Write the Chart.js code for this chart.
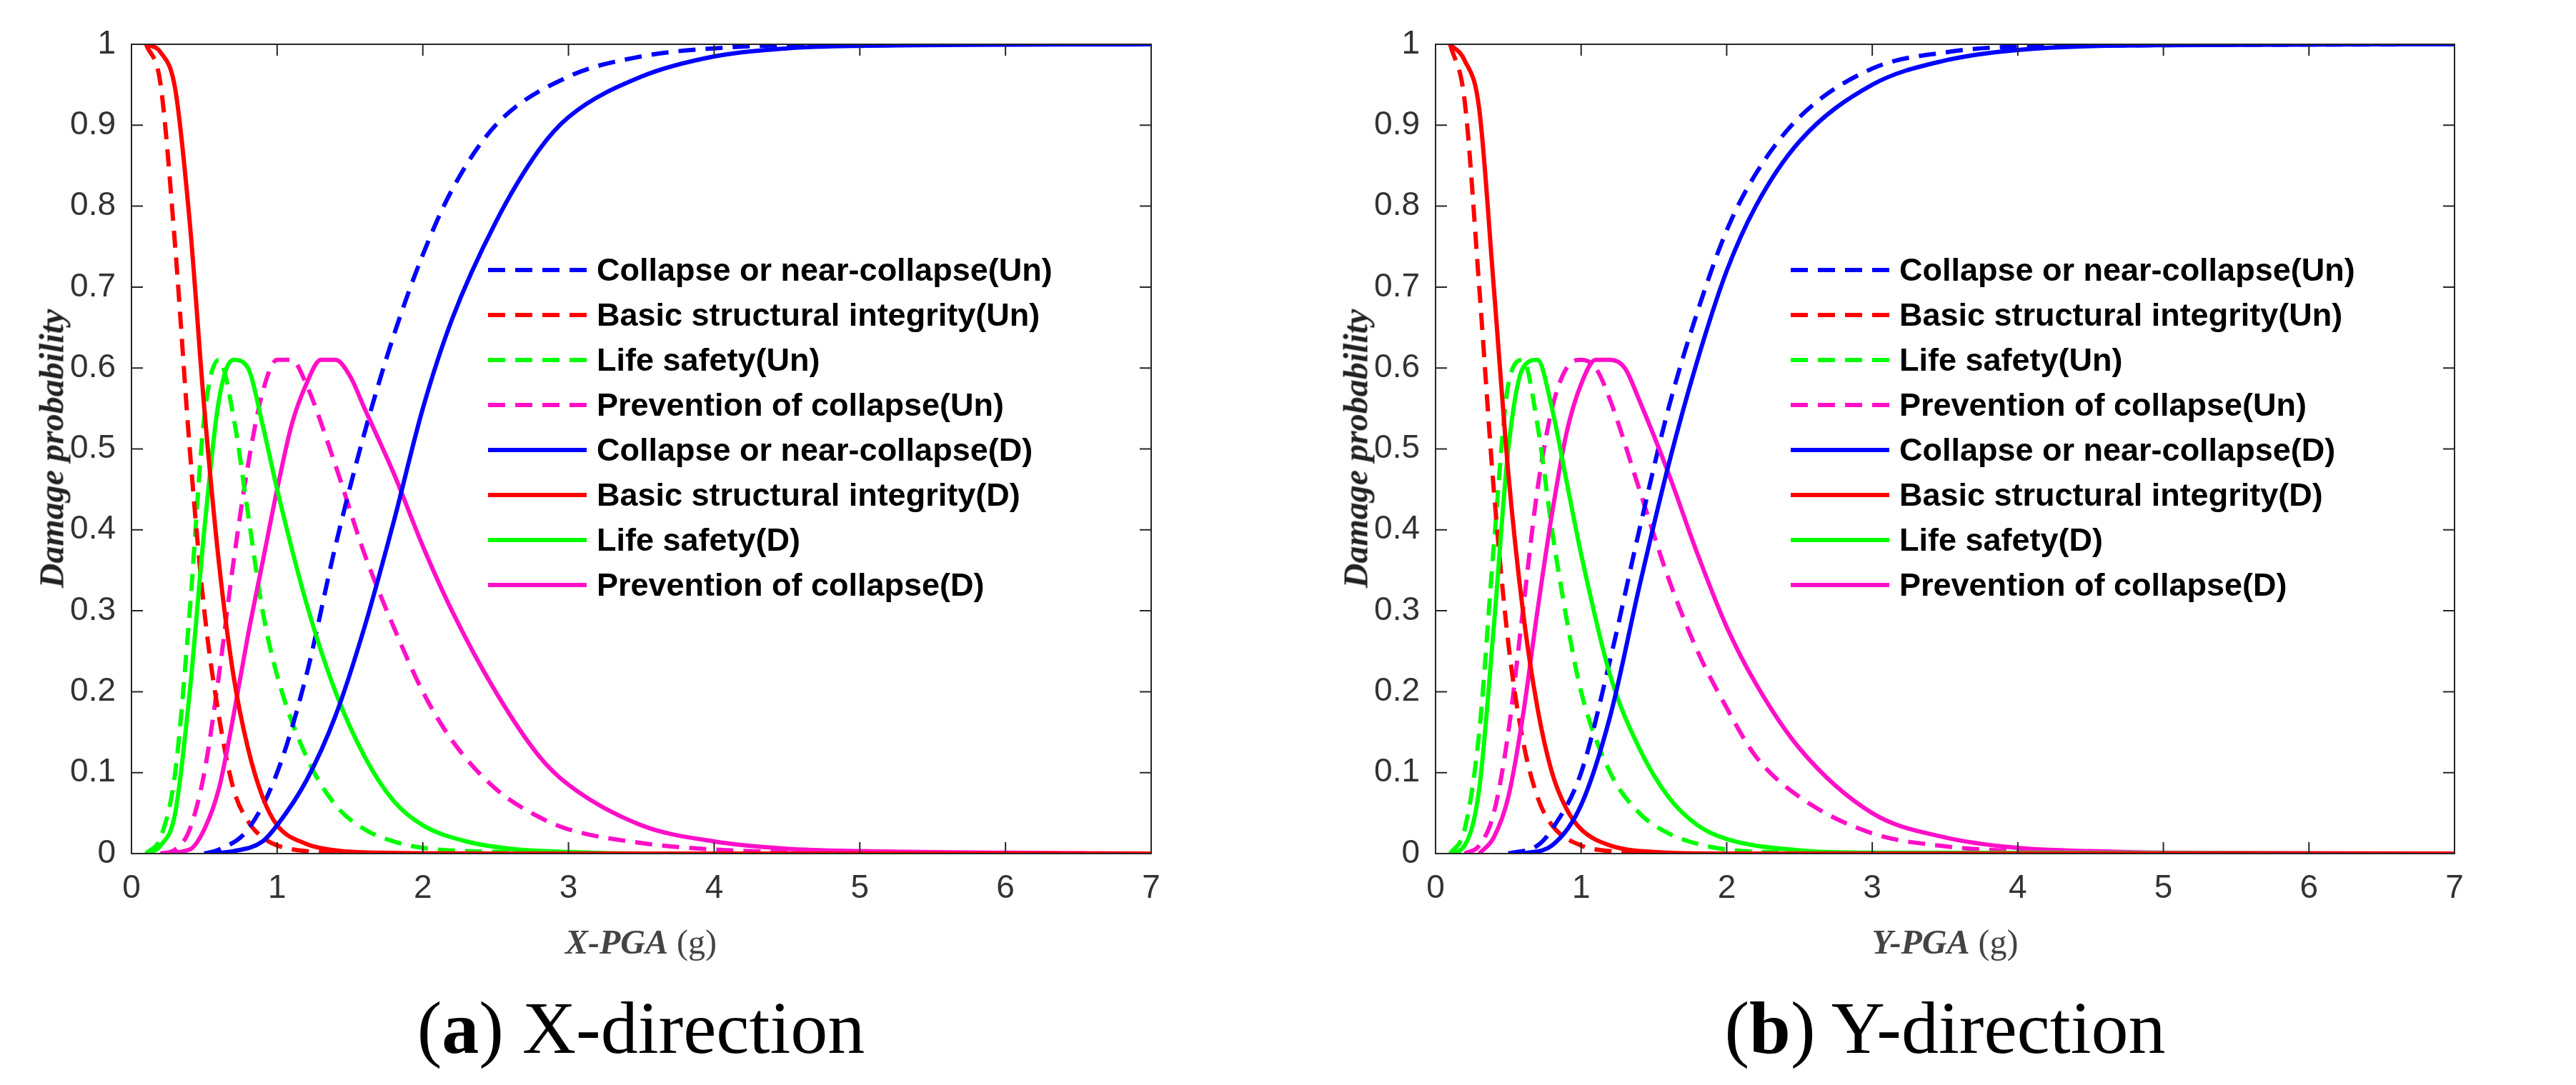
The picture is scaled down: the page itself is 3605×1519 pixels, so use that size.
<!DOCTYPE html>
<html><head><meta charset="utf-8">
<script src="https://cdn.jsdelivr.net/npm/chart.js@4"></script>
<style>
body{margin:0;background:#fff;width:3605px;height:1519px;position:relative;overflow:hidden;font-family:"Liberation Sans",Arial,sans-serif}
.cv{position:absolute;top:0}
.leg{position:absolute;font-weight:bold;font-size:45px;color:#000;line-height:63px}
.leg div{display:flex;align-items:center;height:63px;white-space:nowrap}
.leg svg{margin-right:14px}
.ytit{position:absolute;font-family:"Liberation Serif",serif;font-style:italic;font-weight:bold;font-size:48px;color:#222;transform:translate(-50%,-50%) rotate(-90deg);white-space:nowrap}
.xtit{position:absolute;font-family:"Liberation Serif",serif;font-size:48px;color:#444;transform:translate(-50%,-50%);white-space:nowrap}
.xtit b{font-style:italic}
.cap{position:absolute;font-family:"Liberation Serif",serif;font-size:104px;color:#000;transform:translate(-50%,-50%);white-space:nowrap}
</style></head><body>
<canvas id="c1" class="cv" style="left:0;width:1800px;height:1300px" width="1800" height="1300"></canvas>
<canvas id="c2" class="cv" style="left:1825px;width:1780px;height:1300px" width="1780" height="1300"></canvas>
<div class="ytit" style="left:72px;top:628px">Damage probability</div>
<div class="ytit" style="left:1897px;top:628px">Damage probability</div>
<div class="xtit" style="left:897px;top:1318px"><b>X-PGA</b> (g)</div>
<div class="xtit" style="left:2722px;top:1318px"><b>Y-PGA</b> (g)</div>
<div class="cap" style="left:897px;top:1438px">(<b>a</b>) X-direction</div>
<div class="cap" style="left:2722px;top:1438px">(<b>b</b>) Y-direction</div>
<div class="leg" id="l1" style="left:683px;top:346px"></div>
<div class="leg" id="l2" style="left:2506px;top:346px"></div>
<script>
const seriesNames=["Collapse or near-collapse(Un)","Basic structural integrity(Un)","Life safety(Un)","Prevention of collapse(Un)","Collapse or near-collapse(D)","Basic structural integrity(D)","Life safety(D)","Prevention of collapse(D)"];
const seriesColors=["#0000FF","#FF0000","#00FF00","#FF10C8","#0000FF","#FF0000","#00FF00","#FF10C8"];
const xTicks=[0,1,2,3,4,5,6,7];
const yTicks=[0,0.1,0.2,0.3,0.4,0.5,0.6,0.7,0.8,0.9,1];
// X-direction
const xColUnX=[0.5,0.6,0.8,1.0,1.2,1.4,1.6,1.8,2.0,2.2,2.5,3,3.5,4,5,7];
const xColUnY=[0,0.005,0.03,0.1,0.22,0.38,0.52,0.64,0.74,0.82,0.9,0.96,0.985,0.995,1,1];
const xBasUnX=[0.1,0.2,0.3,0.4,0.5,0.6,0.7,0.8,0.9,1.0,1.2,1.5,2,7];
const xBasUnY=[1,0.95,0.75,0.5,0.3,0.17,0.08,0.04,0.02,0.01,0.003,0.001,0,0];
const xLifUnX=[0.1,0.2,0.3,0.4,0.5,0.6,0.7,0.8,0.9,1.0,1.2,1.4,1.6,1.8,2,2.5,3,7];
const xLifUnY=[0,0.02,0.1,0.3,0.54,0.61,0.54,0.42,0.3,0.22,0.12,0.06,0.03,0.015,0.007,0.002,0,0];
const xPreUnX=[0.2,0.3,0.4,0.5,0.6,0.7,0.8,0.9,1.0,1.1,1.2,1.4,1.6,1.8,2.0,2.2,2.5,2.8,3,3.5,4,4.5,5,7];
const xPreUnY=[0,0.005,0.03,0.1,0.22,0.36,0.48,0.57,0.61,0.61,0.58,0.48,0.37,0.28,0.2,0.14,0.08,0.045,0.03,0.013,0.005,0.002,0.001,0];
const xColDX=[0.5,0.7,0.9,1.0,1.2,1.4,1.6,1.8,2.0,2.2,2.5,2.8,3,3.5,4,4.5,5,7];
const xColDY=[0,0.003,0.015,0.035,0.09,0.17,0.28,0.41,0.55,0.66,0.78,0.87,0.91,0.96,0.985,0.995,0.998,1];
const xBasDX=[0.1,0.2,0.3,0.4,0.5,0.6,0.7,0.8,0.9,1.0,1.2,1.4,1.7,2.5,7];
const xBasDY=[1,0.99,0.945,0.78,0.55,0.36,0.22,0.13,0.07,0.035,0.012,0.004,0.001,0,0];
const xLifDX=[0.1,0.2,0.3,0.4,0.5,0.6,0.7,0.8,0.9,1.0,1.2,1.4,1.6,1.8,2.0,2.3,2.6,3,3.5,7];
const xLifDY=[0,0.01,0.05,0.2,0.4,0.56,0.61,0.6,0.53,0.45,0.31,0.2,0.12,0.065,0.035,0.015,0.006,0.002,0,0];
const xPreDX=[0.2,0.4,0.5,0.6,0.7,0.8,0.9,1.0,1.1,1.2,1.3,1.4,1.5,1.6,1.8,2.0,2.2,2.5,2.8,3.0,3.5,4,4.5,5,6,7];
const xPreDY=[0,0.005,0.03,0.08,0.17,0.27,0.36,0.45,0.53,0.58,0.61,0.61,0.59,0.55,0.47,0.38,0.3,0.2,0.12,0.085,0.035,0.015,0.006,0.003,0.001,0];
// Y-direction
const yColUnX=[0.5,0.7,0.8,1.0,1.2,1.4,1.6,1.8,2.0,2.2,2.5,3,3.5,4,7];
const yColUnY=[0,0.01,0.03,0.1,0.24,0.4,0.55,0.67,0.77,0.84,0.91,0.97,0.99,0.997,1];
const yBasUnX=[0.1,0.2,0.3,0.4,0.5,0.6,0.7,0.8,1.0,1.2,1.5,7];
const yBasUnY=[1,0.93,0.7,0.45,0.26,0.14,0.07,0.035,0.01,0.003,0,0];
const yLifUnX=[0.1,0.2,0.3,0.4,0.5,0.6,0.7,0.8,0.9,1.0,1.2,1.4,1.6,1.8,2,2.5,3,7];
const yLifUnY=[0,0.03,0.15,0.38,0.58,0.61,0.53,0.4,0.29,0.2,0.1,0.05,0.025,0.012,0.005,0.001,0,0];
const yPreUnX=[0.2,0.3,0.4,0.5,0.6,0.7,0.8,0.9,1.0,1.1,1.2,1.4,1.6,1.8,2.0,2.2,2.5,3,3.5,4,5,7];
const yPreUnY=[0,0.01,0.05,0.15,0.3,0.45,0.55,0.6,0.61,0.6,0.56,0.45,0.34,0.25,0.18,0.12,0.07,0.025,0.009,0.003,0,0];
const yColDX=[0.6,0.8,1.0,1.2,1.4,1.6,1.8,2.0,2.2,2.5,3,3.5,4,5,7];
const yColDY=[0,0.01,0.06,0.17,0.33,0.48,0.61,0.72,0.8,0.88,0.95,0.98,0.993,0.999,1];
const yBasDX=[0.1,0.2,0.3,0.4,0.5,0.6,0.7,0.8,0.9,1.0,1.2,1.5,2,7];
const yBasDY=[1,0.98,0.92,0.7,0.47,0.3,0.18,0.1,0.055,0.03,0.01,0.002,0,0];
const yLifDX=[0.1,0.2,0.3,0.4,0.5,0.6,0.7,0.8,0.9,1.0,1.2,1.4,1.6,1.8,2,2.5,3,7];
const yLifDY=[0,0.01,0.08,0.28,0.5,0.6,0.61,0.55,0.46,0.37,0.22,0.13,0.07,0.035,0.018,0.004,0.001,0];
const yPreDX=[0.3,0.4,0.5,0.6,0.7,0.8,0.9,1.0,1.1,1.2,1.3,1.4,1.6,1.8,2.0,2.2,2.5,3,3.5,4,4.5,5,7];
const yPreDY=[0,0.02,0.07,0.17,0.3,0.42,0.52,0.58,0.61,0.61,0.6,0.56,0.47,0.37,0.28,0.21,0.13,0.05,0.02,0.007,0.003,0.001,0];

const panelX=[[xColUnX,xColUnY],[xBasUnX,xBasUnY],[xLifUnX,xLifUnY],[xPreUnX,xPreUnY],[xColDX,xColDY],[xBasDX,xBasDY],[xLifDX,xLifDY],[xPreDX,xPreDY]];
const panelY=[[yColUnX,yColUnY],[yBasUnX,yBasUnY],[yLifUnX,yLifUnY],[yPreUnX,yPreUnY],[yColDX,yColDY],[yBasDX,yBasDY],[yLifDX,yLifDY],[yPreDX,yPreDY]];
const DASH=[24,14];

const boxPlugin={id:'box',afterDraw(ch){
  const c=ch.ctx,a=ch.chartArea,xs=ch.scales.x,ys=ch.scales.y;
  c.save();c.strokeStyle='#262626';c.lineWidth=2;
  c.strokeRect(a.left,a.top,a.right-a.left,a.bottom-a.top);
  const L=16;c.beginPath();
  xTicks.forEach(v=>{const p=xs.getPixelForValue(v);c.moveTo(p,a.bottom);c.lineTo(p,a.bottom-L);c.moveTo(p,a.top);c.lineTo(p,a.top+L);});
  yTicks.forEach(v=>{const p=ys.getPixelForValue(v);c.moveTo(a.left,p);c.lineTo(a.left+L,p);c.moveTo(a.right,p);c.lineTo(a.right-L,p);});
  c.stroke();c.restore();}};

function make(id,panel,leftW,rightPad){
  const ds=panel.map((s,i)=>({label:seriesNames[i],data:s[0].map((x,k)=>({x:x,y:s[1][k]})),borderColor:seriesColors[i],borderWidth:6,borderDash:i<4?DASH:[],pointRadius:0,cubicInterpolationMode:'monotone',fill:false,order:i<4?1:0}));
  new Chart(document.getElementById(id),{type:'line',data:{datasets:ds},plugins:[boxPlugin],
   options:{responsive:false,animation:false,events:[],layout:{padding:{top:62,right:rightPad,left:0,bottom:0}},
    plugins:{legend:{display:false},tooltip:{enabled:false}},
    scales:{
     x:{type:'linear',min:0,max:7,afterBuildTicks:s=>{s.ticks=xTicks.map(v=>({value:v}));},grid:{display:false},border:{display:false},
        ticks:{font:{size:46,family:'Liberation Sans'},color:'#333',padding:14,maxRotation:0},afterFit:s=>{s.height=105;}},
     y:{type:'linear',min:0,max:1,afterBuildTicks:s=>{s.ticks=yTicks.map(v=>({value:v}));},grid:{display:false},border:{display:false},
        ticks:{font:{size:46,family:'Liberation Sans'},color:'#333',padding:14,callback:v=>String(Math.round(v*10)/10)},afterFit:s=>{s.width=leftW;}}
    }}});
}
make('c1',panelX,184,189);
make('c2',panelY,184,170);

function legend(id){
  const el=document.getElementById(id);
  seriesNames.forEach((n,i)=>{
    const d=document.createElement('div');
    d.innerHTML='<svg width="138" height="10"><line x1="0" y1="5" x2="138" y2="5" stroke="'+seriesColors[i]+'" stroke-width="6" '+(i<4?'stroke-dasharray="24,14"':'')+'/></svg><span>'+n+'</span>';
    el.appendChild(d);});
}
legend('l1');legend('l2');
</script></body></html>
